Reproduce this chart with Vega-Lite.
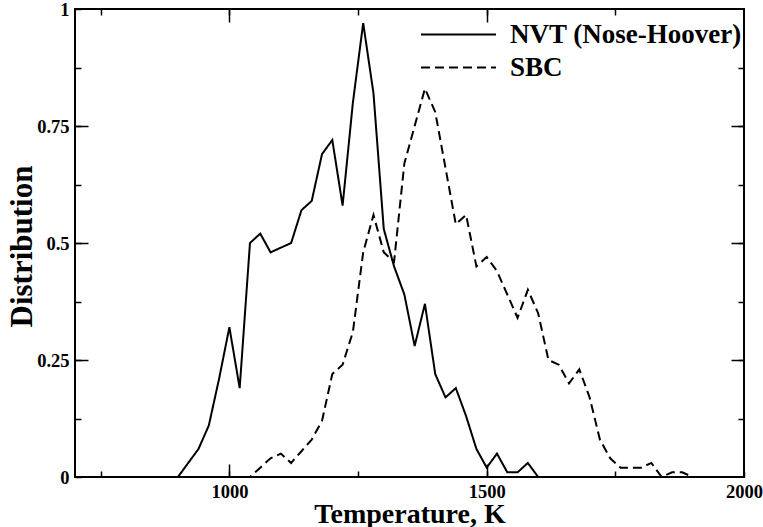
{
  "$schema": "https://vega.github.io/schema/vega-lite/v6.json",
  "description": "Temperature distribution: NVT (Nose-Hoover) vs SBC",
  "width": 669,
  "height": 468,
  "autosize": {"type": "none"},
  "padding": {"left": 75, "top": 9, "right": 19, "bottom": 50},
  "config": {
    "view": {"stroke": "black", "strokeWidth": 2},
    "axis": {
      "grid": false,
      "domain": false,
      "tickColor": "black",
      "tickWidth": 1.5,
      "labelFont": "Liberation Serif",
      "labelFontWeight": "bold",
      "labelFontSize": 18.5,
      "labelColor": "black",
      "labelFlush": false,
      "labelOverlap": false,
      "titleFont": "Liberation Serif",
      "titleFontWeight": "bold",
      "titleColor": "black"
    },
    "legend": {
      "labelFont": "Liberation Serif",
      "labelFontWeight": "bold",
      "labelFontSize": 27,
      "labelColor": "black",
      "labelLimit": 0
    }
  },
  "data": {
    "values": [
      {"T": 700, "Distribution": 0, "series": "NVT (Nose-Hoover)"},
      {"T": 720, "Distribution": 0, "series": "NVT (Nose-Hoover)"},
      {"T": 740, "Distribution": 0, "series": "NVT (Nose-Hoover)"},
      {"T": 760, "Distribution": 0, "series": "NVT (Nose-Hoover)"},
      {"T": 780, "Distribution": 0, "series": "NVT (Nose-Hoover)"},
      {"T": 800, "Distribution": 0, "series": "NVT (Nose-Hoover)"},
      {"T": 820, "Distribution": 0, "series": "NVT (Nose-Hoover)"},
      {"T": 840, "Distribution": 0, "series": "NVT (Nose-Hoover)"},
      {"T": 860, "Distribution": 0, "series": "NVT (Nose-Hoover)"},
      {"T": 880, "Distribution": 0, "series": "NVT (Nose-Hoover)"},
      {"T": 900, "Distribution": 0, "series": "NVT (Nose-Hoover)"},
      {"T": 920, "Distribution": 0.03, "series": "NVT (Nose-Hoover)"},
      {"T": 940, "Distribution": 0.06, "series": "NVT (Nose-Hoover)"},
      {"T": 960, "Distribution": 0.11, "series": "NVT (Nose-Hoover)"},
      {"T": 980, "Distribution": 0.21, "series": "NVT (Nose-Hoover)"},
      {"T": 1000, "Distribution": 0.32, "series": "NVT (Nose-Hoover)"},
      {"T": 1020, "Distribution": 0.19, "series": "NVT (Nose-Hoover)"},
      {"T": 1040, "Distribution": 0.5, "series": "NVT (Nose-Hoover)"},
      {"T": 1060, "Distribution": 0.52, "series": "NVT (Nose-Hoover)"},
      {"T": 1080, "Distribution": 0.48, "series": "NVT (Nose-Hoover)"},
      {"T": 1100, "Distribution": 0.49, "series": "NVT (Nose-Hoover)"},
      {"T": 1120, "Distribution": 0.5, "series": "NVT (Nose-Hoover)"},
      {"T": 1140, "Distribution": 0.57, "series": "NVT (Nose-Hoover)"},
      {"T": 1160, "Distribution": 0.59, "series": "NVT (Nose-Hoover)"},
      {"T": 1180, "Distribution": 0.69, "series": "NVT (Nose-Hoover)"},
      {"T": 1200, "Distribution": 0.72, "series": "NVT (Nose-Hoover)"},
      {"T": 1220, "Distribution": 0.58, "series": "NVT (Nose-Hoover)"},
      {"T": 1240, "Distribution": 0.8, "series": "NVT (Nose-Hoover)"},
      {"T": 1260, "Distribution": 0.97, "series": "NVT (Nose-Hoover)"},
      {"T": 1280, "Distribution": 0.82, "series": "NVT (Nose-Hoover)"},
      {"T": 1300, "Distribution": 0.53, "series": "NVT (Nose-Hoover)"},
      {"T": 1320, "Distribution": 0.45, "series": "NVT (Nose-Hoover)"},
      {"T": 1340, "Distribution": 0.39, "series": "NVT (Nose-Hoover)"},
      {"T": 1360, "Distribution": 0.28, "series": "NVT (Nose-Hoover)"},
      {"T": 1380, "Distribution": 0.37, "series": "NVT (Nose-Hoover)"},
      {"T": 1400, "Distribution": 0.22, "series": "NVT (Nose-Hoover)"},
      {"T": 1420, "Distribution": 0.17, "series": "NVT (Nose-Hoover)"},
      {"T": 1440, "Distribution": 0.19, "series": "NVT (Nose-Hoover)"},
      {"T": 1460, "Distribution": 0.13, "series": "NVT (Nose-Hoover)"},
      {"T": 1480, "Distribution": 0.06, "series": "NVT (Nose-Hoover)"},
      {"T": 1500, "Distribution": 0.02, "series": "NVT (Nose-Hoover)"},
      {"T": 1520, "Distribution": 0.05, "series": "NVT (Nose-Hoover)"},
      {"T": 1540, "Distribution": 0.01, "series": "NVT (Nose-Hoover)"},
      {"T": 1560, "Distribution": 0.01, "series": "NVT (Nose-Hoover)"},
      {"T": 1580, "Distribution": 0.03, "series": "NVT (Nose-Hoover)"},
      {"T": 1600, "Distribution": 0, "series": "NVT (Nose-Hoover)"},
      {"T": 1650, "Distribution": 0, "series": "NVT (Nose-Hoover)"},
      {"T": 1700, "Distribution": 0, "series": "NVT (Nose-Hoover)"},
      {"T": 1750, "Distribution": 0, "series": "NVT (Nose-Hoover)"},
      {"T": 1800, "Distribution": 0, "series": "NVT (Nose-Hoover)"},
      {"T": 1850, "Distribution": 0, "series": "NVT (Nose-Hoover)"},
      {"T": 1900, "Distribution": 0, "series": "NVT (Nose-Hoover)"},
      {"T": 1950, "Distribution": 0, "series": "NVT (Nose-Hoover)"},
      {"T": 2000, "Distribution": 0, "series": "NVT (Nose-Hoover)"},
      {"T": 700, "Distribution": 0, "series": "SBC"},
      {"T": 750, "Distribution": 0, "series": "SBC"},
      {"T": 800, "Distribution": 0, "series": "SBC"},
      {"T": 850, "Distribution": 0, "series": "SBC"},
      {"T": 900, "Distribution": 0, "series": "SBC"},
      {"T": 950, "Distribution": 0, "series": "SBC"},
      {"T": 1000, "Distribution": 0, "series": "SBC"},
      {"T": 1020, "Distribution": 0, "series": "SBC"},
      {"T": 1040, "Distribution": 0, "series": "SBC"},
      {"T": 1060, "Distribution": 0.02, "series": "SBC"},
      {"T": 1080, "Distribution": 0.04, "series": "SBC"},
      {"T": 1100, "Distribution": 0.05, "series": "SBC"},
      {"T": 1120, "Distribution": 0.03, "series": "SBC"},
      {"T": 1140, "Distribution": 0.055, "series": "SBC"},
      {"T": 1160, "Distribution": 0.08, "series": "SBC"},
      {"T": 1180, "Distribution": 0.12, "series": "SBC"},
      {"T": 1200, "Distribution": 0.22, "series": "SBC"},
      {"T": 1220, "Distribution": 0.24, "series": "SBC"},
      {"T": 1240, "Distribution": 0.31, "series": "SBC"},
      {"T": 1260, "Distribution": 0.48, "series": "SBC"},
      {"T": 1280, "Distribution": 0.56, "series": "SBC"},
      {"T": 1300, "Distribution": 0.48, "series": "SBC"},
      {"T": 1320, "Distribution": 0.46, "series": "SBC"},
      {"T": 1340, "Distribution": 0.67, "series": "SBC"},
      {"T": 1360, "Distribution": 0.75, "series": "SBC"},
      {"T": 1380, "Distribution": 0.83, "series": "SBC"},
      {"T": 1400, "Distribution": 0.78, "series": "SBC"},
      {"T": 1420, "Distribution": 0.66, "series": "SBC"},
      {"T": 1440, "Distribution": 0.54, "series": "SBC"},
      {"T": 1460, "Distribution": 0.56, "series": "SBC"},
      {"T": 1480, "Distribution": 0.45, "series": "SBC"},
      {"T": 1500, "Distribution": 0.47, "series": "SBC"},
      {"T": 1520, "Distribution": 0.44, "series": "SBC"},
      {"T": 1540, "Distribution": 0.39, "series": "SBC"},
      {"T": 1560, "Distribution": 0.34, "series": "SBC"},
      {"T": 1580, "Distribution": 0.4, "series": "SBC"},
      {"T": 1600, "Distribution": 0.35, "series": "SBC"},
      {"T": 1620, "Distribution": 0.25, "series": "SBC"},
      {"T": 1640, "Distribution": 0.24, "series": "SBC"},
      {"T": 1660, "Distribution": 0.2, "series": "SBC"},
      {"T": 1680, "Distribution": 0.23, "series": "SBC"},
      {"T": 1700, "Distribution": 0.17, "series": "SBC"},
      {"T": 1720, "Distribution": 0.08, "series": "SBC"},
      {"T": 1740, "Distribution": 0.04, "series": "SBC"},
      {"T": 1760, "Distribution": 0.02, "series": "SBC"},
      {"T": 1780, "Distribution": 0.02, "series": "SBC"},
      {"T": 1800, "Distribution": 0.02, "series": "SBC"},
      {"T": 1820, "Distribution": 0.03, "series": "SBC"},
      {"T": 1840, "Distribution": 0, "series": "SBC"},
      {"T": 1860, "Distribution": 0.01, "series": "SBC"},
      {"T": 1880, "Distribution": 0.01, "series": "SBC"},
      {"T": 1900, "Distribution": 0, "series": "SBC"},
      {"T": 1950, "Distribution": 0, "series": "SBC"},
      {"T": 2000, "Distribution": 0, "series": "SBC"}
    ]
  },
  "resolve": {"axis": {"x": "independent", "y": "independent"}},
  "layer": [
    {
      "mark": {"type": "line", "color": "black", "strokeWidth": 2, "clip": true},
      "encoding": {
        "x": {
          "field": "T", "type": "quantitative",
          "scale": {"domain": [700, 2000], "nice": false, "zero": false},
          "axis": {
            "title": "Temperature, K", "orient": "bottom",
            "values": [750, 1000, 1250, 1500, 1750, 2000],
            "tickSize": -6, "labelPadding": 11,
            "labelExpr": "datum.value % 500 == 0 ? '' + datum.value : ''",
            "titleFontSize": 28, "titleBaseline": "alphabetic", "titleY": 45
          }
        },
        "y": {
          "field": "Distribution", "type": "quantitative",
          "scale": {"domain": [0, 1], "nice": false},
          "axis": {
            "title": "Distribution", "orient": "left",
            "values": [0, 0.125, 0.25, 0.375, 0.5, 0.625, 0.75, 0.875, 1],
            "tickSize": -6, "labelPadding": 12,
            "labelExpr": "indexof([0, 0.25, 0.5, 0.75, 1], datum.value) >= 0 ? '' + datum.value : ''",
            "titleFontSize": 31, "titleBaseline": "alphabetic", "titleX": -44, "titleY": 237
          }
        },
        "strokeDash": {
          "field": "series", "type": "nominal",
          "scale": {"domain": ["NVT (Nose-Hoover)", "SBC"], "range": [[1, 0], [9, 5]]},
          "legend": {
            "title": null, "orient": "none", "legendX": 369, "legendY": 11,
            "padding": 0, "symbolType": "M-2.78,0H2.78", "symbolSize": 729,
            "symbolStrokeColor": "black", "symbolStrokeWidth": 2,
            "labelOffset": 37, "rowPadding": 5
          }
        }
      }
    },
    {
      "mark": {"type": "point", "opacity": 0},
      "encoding": {
        "x": {"field": "T", "type": "quantitative", "axis": {"title": null, "orient": "bottom", "values": [1000, 1500], "tickSize": -13, "labels": false}},
        "y": {"field": "Distribution", "type": "quantitative", "axis": {"title": null, "orient": "left", "values": [0.25, 0.5, 0.75], "tickSize": -13, "labels": false}}
      }
    },
    {
      "mark": {"type": "point", "opacity": 0},
      "encoding": {
        "x": {"field": "T", "type": "quantitative", "axis": {"title": null, "orient": "top", "values": [750, 1000, 1250, 1500, 1750], "tickSize": -6, "labels": false}},
        "y": {"field": "Distribution", "type": "quantitative", "axis": {"title": null, "orient": "right", "values": [0.125, 0.25, 0.375, 0.5, 0.625, 0.75, 0.875], "tickSize": -6, "labels": false}}
      }
    },
    {
      "mark": {"type": "point", "opacity": 0},
      "encoding": {
        "x": {"field": "T", "type": "quantitative", "axis": {"title": null, "orient": "top", "values": [1000, 1500], "tickSize": -13, "labels": false}},
        "y": {"field": "Distribution", "type": "quantitative", "axis": {"title": null, "orient": "right", "values": [0.25, 0.5, 0.75], "tickSize": -13, "labels": false}}
      }
    }
  ]
}
